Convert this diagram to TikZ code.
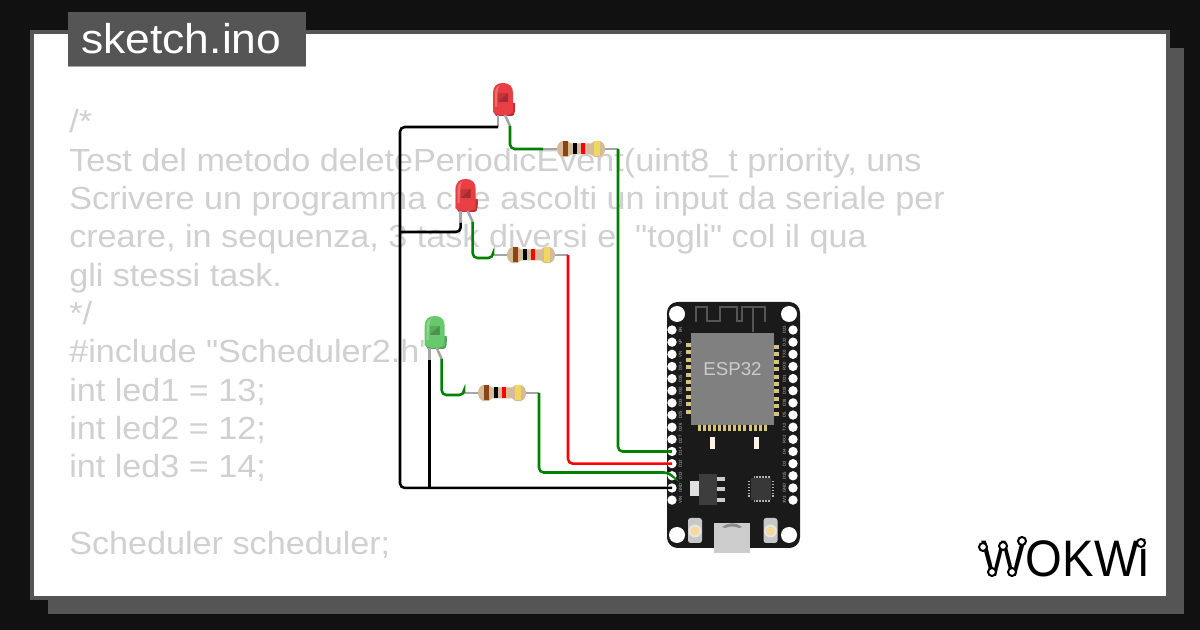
\documentclass[tikz,border=0pt]{standalone}
\usepackage{fontspec}
\setmainfont{Liberation Sans}
\newfontfamily\codefont[FakeStretch=1.068]{Liberation Sans}
\newfontfamily\logofont[FakeStretch=.92]{Liberation Sans}
\usetikzlibrary{positioning}

\definecolor{framegray}{RGB}{85,85,85}
\definecolor{pagedark}{RGB}{17,17,17}
\definecolor{codegray}{RGB}{208,208,208}
\definecolor{boarddark}{RGB}{26,26,26}
\definecolor{wiregreen}{RGB}{0,128,0}
\definecolor{leadgray}{RGB}{165,165,165}
\definecolor{padgold}{RGB}{214,196,120}
\definecolor{bodytan}{RGB}{214,187,155}
\definecolor{bandbrown}{RGB}{139,69,19}
\definecolor{bandyellow}{RGB}{240,216,96}
\definecolor{buttongold}{RGB}{247,216,150}
\definecolor{ledred}{RGB}{232,62,68}
\definecolor{ledgreen}{RGB}{104,200,108}

\tikzset{
  codeline/.style={anchor=base west,inner sep=0pt,text=codegray,font=\codefont\fontsize{24}{24}\selectfont},
  pinhole/.style={circle,fill=white,minimum size=7pt,inner sep=0pt},
  pinlabel/.style={rotate=90,inner sep=0pt,text=white!75!black,font=\fontsize{3.2}{3.2}\selectfont},
  wire/.style={line width=1.9pt,rounded corners=3.5pt},
  lead/.style={line width=1.9pt,leadgray},
  logonode/.style={circle,draw=black,fill=white,line width=1.5pt,minimum size=6pt,inner sep=0pt},
  ledpic/.pic={
    \fill[#1!80!black] (-4,8) -- (12,8) .. controls (12.5,14) and (12,21) .. (9,21) -- (-7,21) -- (-10,16) -- cycle;
    \fill[#1] (-10,17) -- (-10,-2) .. controls (-10,-9) and (-6,-12) .. (0,-12) .. controls (6,-12) and (10,-9) .. (10,-2) -- (10,17) .. controls (8,21) and (-8,21) .. (-10,17) -- cycle;
    \fill[#1!85!black] (-5,-2) -- (5,-2) -- (5,7) -- (-5,7) -- cycle;
    \fill[#1!60!black,opacity=.5] (-5,7) -- (5,-2) -- (5,7) -- cycle;
    \fill[white,opacity=.25] (-8,12) -- (-8,-2) .. controls (-8,-6) and (-6,-9) .. (-3,-10) .. controls (-6,-6) and (-6,0) .. (-6,12) -- cycle;
    \draw[lead] (-5,20) -- (-5,32) coordinate (-cat);
    \draw[lead] (2,20) -- (7,31) coordinate (-an);
  },
  resistorpic/.pic={
    \draw[lead] (-38,0) coordinate (-l) -- (37,0) coordinate (-r);
    \fill[bodytan] (-24,0) .. controls (-24,-10) and (-13,-10) .. (-10,-5.5) -- (10,-5.5) .. controls (13,-10) and (24,-10) .. (24,0) .. controls (24,10) and (13,10) .. (10,5.5) -- (-10,5.5) .. controls (-13,10) and (-24,10) .. (-24,0) -- cycle;
    \fill[bandbrown] (-18,-7.5) rectangle (-13.5,7.5);
    \fill[black] (-8.5,-5.5) rectangle (-4,5.5);
    \fill[red] (0,-5.5) rectangle (4,5.5);
    \fill[bandyellow] (13,-7.5) rectangle (19,7.5);
  }
}

\begin{document}
\begin{tikzpicture}[x=0.75pt,y=0.75pt,yscale=-1,xscale=1]
\useasboundingbox (0,0) rectangle (1200,630);

%Page and frame
\fill[pagedark] (0,0) rectangle (1200,630);
\fill[framegray] (48,48) rectangle (1184,614);
\fill[framegray] (30,30) rectangle (1170,600);
\fill[white] (34,34) rectangle (1166,596);
\fill[framegray] (68,12) rectangle (306,66);
\fill[white!65!black] (68,66) rectangle (306,67);

% Text Node
\node[anchor=base west,inner sep=0pt,text=white,font=\codefont\fontsize{31.2}{31.2}\selectfont] (title) at (81,54) {sketch.ino};

%Code lines
\node[codeline] (code1) at (69,133) {/*};
\node[codeline] (code2) at (69,171.5) {Test del metodo deletePeriodicEvent(uint8\_t priority, uns};
\node[codeline] (code3) at (69,210) {Scrivere un programma che ascolti un input da seriale per};
\node[codeline] (code4) at (69,248) {creare, in sequenza, 3 task diversi e \ "togli" col il qua};
\node[codeline] (code5) at (69,286.5) {gli stessi task.};
\node[codeline] (code6) at (69,325) {*/};
\node[codeline] (code7) at (69,363) {\#include "Scheduler2.h"};
\node[codeline] (code8) at (69,401.5) {int led1 = 13;};
\node[codeline] (code9) at (69,440) {int led2 = 12;};
\node[codeline] (code10) at (69,478) {int led3 = 14;};
\node[codeline] (code12) at (69,555) {Scheduler scheduler;};

%Board
\fill[boarddark,rounded corners=8pt] (667,302) rectangle (800,548);
\foreach \hx/\hy in {677/314,789/314,677/535,789/535}
  \fill[white] (\hx,\hy) circle (8);
%Antenna
\draw[line width=.8pt,framegray] (696,322) -- (696,307) -- (707,307) -- (707,321) -- (720,321) -- (720,307) -- (737,307) -- (737,321) -- (742,321) -- (742,307) -- (765,307) -- (765,322);
\draw[line width=.8pt,framegray] (753,307) -- (753,332);
%Module
\foreach \i in {0,...,9} {
  \fill[padgold] (686,{343+\i*7.4}) rectangle (691,{347+\i*7.4});
  \fill[padgold] (774,{345+\i*7.4}) rectangle (779,{349+\i*7.4});
}
\foreach \i in {0,...,13}
  \fill[padgold] ({698+\i*5.05},425) rectangle ({701+\i*5.05},431);
\fill[white!50!black] (691,333) rectangle (774,425);
\node[inner sep=0pt,text=white!80!black,font=\fontsize{14}{14}\selectfont] (esp) at (732.5,369.5) {ESP32};
%Regulator
\fill[white!88!black] (690,481) rectangle (699,496);
\fill[white!80!black] (717,477) rectangle (725,481);
\fill[white!80!black] (717,487) rectangle (725,491);
\fill[white!80!black] (717,498) rectangle (725,502);
\fill[white!24!black] (699,474) rectangle (717,505);
%Chip
\foreach \i in {0,...,5} {
  \fill[white!70!black] ({753.5+\i*2.9},476) rectangle ({755+\i*2.9},478);
  \fill[white!70!black] ({753.5+\i*2.9},500) rectangle ({755+\i*2.9},502);
  \fill[white!70!black] (748,{481+\i*2.9}) rectangle (750,{482.5+\i*2.9});
  \fill[white!70!black] (772,{481+\i*2.9}) rectangle (774,{482.5+\i*2.9});
}
\fill[white!22!black] (751,478) rectangle (771,500);
%Small leds
\fill[white!90!orange] (710,437) rectangle (715,449);
\fill[white!90!orange] (754,437) rectangle (759,449);
%Buttons
\foreach \bx in {695,770.5} {
  \fill[white!78!black,rounded corners=2pt] ({\bx-7},518) rectangle ({\bx+7},543);
  \fill[white!90!black] (\bx,531) circle (6.5);
  \fill[buttongold] (\bx,531) circle (4.5);
}
%USB
\fill[white!80!black] (714,523) rectangle (750,553);
\fill[white!55!black] (722,527) .. controls (730,522) and (735,522) .. (742,527) -- (739,528) .. controls (734,526) and (730,526) .. (725,528) -- cycle;

%Pins
\foreach \pname [count=\n from 0] in {EN,VP,VN,D34,D35,D32,D33,D25,D26,D27,D14,D12,D13,GND,VIN} {
  \node[pinhole] (left\pname) at (672,{330+\n*12.15}) {};
  \node[pinlabel] (lab\pname) at (680.5,{330+\n*12.15}) {\pname};
}
\foreach \pname [count=\n from 0] in {D23,D22,TX0,RX0,D21,D19,D18,D5,TX2,RX2,D4,D2,D15,GND,3V3} {
  \node[pinhole] (right\pname) at (793,{330+\n*12.15}) {};
  \node[pinlabel] (rlab\pname) at (784.5,{330+\n*12.15}) {\pname};
}

%Leds and resistors
\pic[transform shape] (ledone) at (503,95) {ledpic=ledred};
\pic[transform shape] (ledtwo) at (465.7,191) {ledpic=ledred};
\pic[transform shape] (ledthree) at (434.7,328) {ledpic=ledgreen};
\pic[transform shape] (resone) at (581,149) {resistorpic};
\pic[transform shape] (restwo) at (531,255) {resistorpic};
\pic[transform shape] (resthree) at (502,393) {resistorpic};

%Wire corners
\coordinate (gndleft) at (400,487.95);
\coordinate (gndmid) at (429.7,487.95);
\coordinate (busjoin) at (400,232);
\coordinate (hooktwo) at (493,258);
\coordinate (hookthree) at (464,395);
\coordinate (hookfour) at (669,472.5);

%Straight Lines
\draw[wire,black] (ledone-cat) -| (gndleft) -- (leftGND.center);
\draw[wire,black] (ledtwo-cat) |- (busjoin);
\draw[wire,black] (ledthree-cat) -- (gndmid);
\draw[wire,wiregreen] (ledone-an) |- (resone-l);
\draw[wire,wiregreen] (resone-r) |- (leftD14.center);
\draw[wire,wiregreen] (ledtwo-an) |- (hooktwo) -- (restwo-l);
\draw[wire,red] (restwo-r) |- (leftD12.center);
\draw[wire,wiregreen] (ledthree-an) |- (hookthree) -- (resthree-l);
\draw[wire,wiregreen] (resthree-r) |- (hookfour) -- (leftD13.center);

%Logo
\node[anchor=base west,inner sep=0pt,text=black,font=\logofont\fontsize{38.5}{38.5}\selectfont] (logo) at (981,577) {WOKWi};
\foreach \lx/\ly [count=\k] in {983/547,1003/546,1022/541,992/572,1012/572,1141/543}
  \node[logonode] (wnode\k) at (\lx,\ly) {};

\end{tikzpicture}
\end{document}
